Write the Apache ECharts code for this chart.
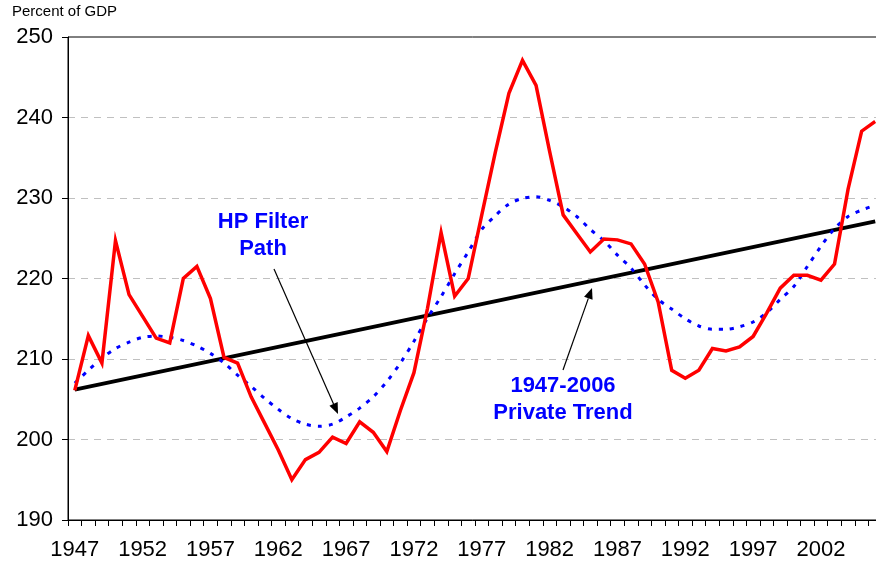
<!DOCTYPE html>
<html>
<head>
<meta charset="utf-8">
<script src="https://cdn.jsdelivr.net/npm/echarts@6/dist/echarts.min.js"></script>
<style>
  html, body { margin: 0; padding: 0; background: #fff; }
  #chart { width: 876px; height: 566px; }
</style>
</head>
<body>
<div id="chart"></div>
<script>
const years = [
  1947, 1948, 1949, 1950, 1951, 1952, 1953, 1954, 1955, 1956,
  1957, 1958, 1959, 1960, 1961, 1962, 1963, 1964, 1965, 1966,
  1967, 1968, 1969, 1970, 1971, 1972, 1973, 1974, 1975, 1976,
  1977, 1978, 1979, 1980, 1981, 1982, 1983, 1984, 1985, 1986,
  1987, 1988, 1989, 1990, 1991, 1992, 1993, 1994, 1995, 1996,
  1997, 1998, 1999, 2000, 2001, 2002, 2003, 2004, 2005, 2006
];

// private ratio, percent of GDP (red)
const privateRatio = [
  206.1, 212.9, 209.5, 224.7, 218.0, 215.3, 212.6, 212.0, 220.0, 221.5,
  217.5, 210.2, 209.5, 205.3, 202.0, 198.7, 195.0, 197.5, 198.4, 200.3,
  199.5, 202.2, 200.9, 198.5, 203.6, 208.3, 216.3, 225.7, 217.8, 220.0,
  227.9, 235.7, 243.0, 247.1, 244.0, 235.8, 227.9, 225.6, 223.3, 224.9,
  224.8, 224.3, 221.8, 217.1, 208.6, 207.6, 208.6, 211.3, 211.0, 211.5,
  212.8, 215.7, 218.8, 220.4, 220.4, 219.8, 221.8, 231.1, 238.3, 239.5
];

// HP filter path (blue dotted)
const hpFilter = [
  207.0, 208.6, 210.1, 211.3, 212.1, 212.7, 212.85, 212.7, 212.3, 211.6,
  210.7, 209.5, 208.0, 206.6, 205.1, 203.75, 202.6, 201.9, 201.65, 201.9,
  202.8, 203.9, 205.3, 207.2, 209.5, 212.2, 215.1, 217.75, 220.6, 223.3,
  226.1, 227.8, 229.25, 229.95, 230.15, 229.7, 228.9, 227.7, 226.1, 224.7,
  222.9, 221.3, 219.2, 217.4, 216.2, 215.0, 214.1, 213.7, 213.7, 214.0,
  214.6, 215.75, 217.4, 219.0, 221.5, 224.0, 226.2, 227.7, 228.5, 229.1
];

// 1947-2006 linear trend: only the two end points, joined straight
const trendStart = 206.2;
const trendEnd = 227.1;
const trend = years.map((y, i) => i === 0 ? trendStart : (i === years.length - 1 ? trendEnd : null));

const yTicks = { min: 190, max: 250, step: 10 };

const FONT = 'Arial, "Liberation Sans", sans-serif';

// arrow helper for the annotations (pixel space)
const arrow = (x1, y1, x2, y2) => {
  const a = Math.atan2(y2 - y1, x2 - x1);
  const len = 11, w = 4.5;
  const bx = x2 - len * Math.cos(a), by = y2 - len * Math.sin(a);
  return [
    {
      type: 'line',
      shape: { x1, y1, x2: bx, y2: by },
      style: { stroke: '#000', lineWidth: 1.2 },
      z: 20
    },
    {
      type: 'polygon',
      shape: {
        points: [
          [x2, y2],
          [bx + w * Math.sin(a), by - w * Math.cos(a)],
          [bx - w * Math.sin(a), by + w * Math.cos(a)]
        ]
      },
      style: { fill: '#000' },
      z: 20
    }
  ];
};

const chart = echarts.init(document.getElementById('chart'));

const option = {
  animation: false,
  backgroundColor: '#fff',
  grid: {
    left: 68,
    top: 37,
    width: 814,
    height: 483,
    outerBoundsMode: 'none',
    containLabel: false,
    show: true,
    borderColor: '#000',
    borderWidth: 1,
    backgroundColor: 'transparent'
  },
  xAxis: {
    type: 'category',
    data: years,
    boundaryGap: true,
    axisLine: { lineStyle: { color: '#000', width: 1 } },
    axisTick: { show: true, interval: 0, length: 6, lineStyle: { color: '#000' } },
    axisLabel: { interval: 4, color: '#000', fontSize: 22, fontFamily: FONT, margin: 19 },
    splitLine: { show: false }
  },
  yAxis: {
    type: 'value',
    min: yTicks.min,
    max: yTicks.max,
    interval: yTicks.step,
    axisLine: { show: true, lineStyle: { color: '#000', width: 1 } },
    axisTick: { show: true, length: 6, lineStyle: { color: '#000' } },
    axisLabel: { color: '#000', fontSize: 22, fontFamily: FONT, margin: 15 },
    splitLine: {
      show: true,
      showMinLine: false,
      showMaxLine: false,
      lineStyle: { color: '#c0c0c0', width: 1.2, type: [7, 6] }
    }
  },
  series: [
    {
      name: 'Trend',
      type: 'line',
      data: trend,
      connectNulls: true,
      symbol: 'none',
      lineStyle: { color: '#000', width: 4 },
      z: 3
    },
    {
      name: 'HP Filter',
      type: 'line',
      data: hpFilter,
      smooth: 0.3,
      symbol: 'none',
      lineStyle: { color: '#0000ff', width: 3, type: [4, 7], cap: 'butt' },
      z: 4
    },
    {
      name: 'Private',
      type: 'line',
      data: privateRatio,
      symbol: 'none',
      lineStyle: { color: '#ff0000', width: 3.5, join: 'miter' },
      z: 5
    }
  ],
  graphic: [
    {
      type: 'text',
      left: 12,
      top: 4,
      style: { text: 'Percent of GDP', fill: '#000', font: '15px ' + FONT }
    },
    {
      type: 'text',
      x: 263, y: 235,
      style: {
        text: 'HP Filter\nPath', fill: '#0000ff', font: 'bold 22px ' + FONT,
        align: 'center', verticalAlign: 'middle', lineHeight: 27
      },
      z: 20
    },
    {
      type: 'text',
      x: 563, y: 399,
      style: {
        text: '1947-2006\nPrivate Trend', fill: '#0000ff', font: 'bold 22px ' + FONT,
        align: 'center', verticalAlign: 'middle', lineHeight: 27
      },
      z: 20
    },
    ...arrow(274, 269, 338, 414),
    ...arrow(563, 370, 592, 288)
  ]
};

chart.setOption(option);
</script>
</body>
</html>
